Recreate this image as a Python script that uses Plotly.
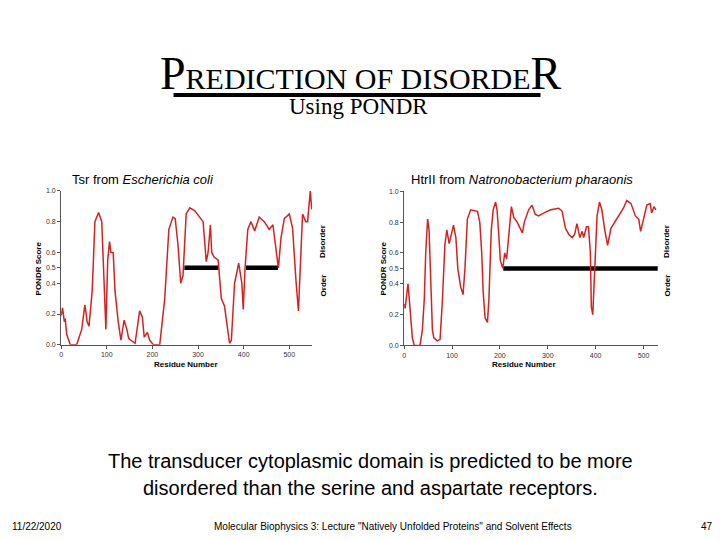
import plotly.graph_objects as go

# Tsr from Escherichia coli
tsr_res = [0, 3, 7, 9, 12, 20, 34, 41, 45, 52, 57, 61, 68, 74, 82, 89, 95, 98, 102, 106, 109, 114,
           118, 125, 131, 138, 144, 148, 162, 172, 178, 182, 189, 194, 202, 216, 227, 236, 245, 250,
           256, 262, 267, 274, 282, 293, 311, 318, 322, 327, 330, 335, 344, 351, 358, 364, 369, 373,
           380, 389, 396, 399, 403, 409, 416, 424, 434, 445, 456, 464, 471, 476, 482, 489, 500, 507,
           515, 520, 529, 536, 540, 546, 549]
tsr_score = [0.19, 0.24, 0.15, 0.17, 0.07, 0.0, 0.0, 0.07, 0.1, 0.26, 0.15, 0.12, 0.35, 0.8, 0.86,
             0.8, 0.3, 0.1, 0.55, 0.67, 0.6, 0.6, 0.35, 0.15, 0.03, 0.16, 0.1, 0.04, 0.01, 0.22, 0.18,
             0.05, 0.08, 0.03, 0.0, 0.0, 0.3, 0.75, 0.83, 0.82, 0.65, 0.4, 0.45, 0.85, 0.89, 0.87, 0.8,
             0.54, 0.6, 0.78, 0.6, 0.57, 0.55, 0.3, 0.25, 0.1, 0.01, 0.03, 0.4, 0.53, 0.4, 0.23, 0.5,
             0.75, 0.8, 0.74, 0.83, 0.8, 0.75, 0.78, 0.6, 0.5, 0.7, 0.82, 0.85, 0.76, 0.4, 0.22, 0.85,
             0.8, 0.8, 1.0, 0.88]
tsr_bars = [(270, 345), (405, 475)]

# HtrII from Natronobacterium pharaonis
htr_res = [0, 2, 6, 8, 12, 17, 21, 33, 38, 42, 45, 49, 52, 56, 59, 62, 69, 75, 80, 85, 89, 94, 97,
           103, 108, 112, 118, 123, 127, 132, 139, 153, 158, 162, 165, 169, 174, 177, 182, 186, 191,
           194, 198, 201, 206, 210, 214, 219, 224, 229, 236, 247, 251, 260, 267, 274, 281, 292, 306,
           323, 330, 337, 344, 351, 356, 361, 367, 372, 375, 381, 385, 389, 391, 394, 398, 403, 408,
           413, 419, 425, 432, 444, 458, 465, 474, 483, 490, 494, 501, 507, 514, 517, 522, 526]
htr_score = [0.27, 0.24, 0.35, 0.4, 0.25, 0.05, 0.0, 0.0, 0.1, 0.3, 0.6, 0.82, 0.75, 0.4, 0.1, 0.05,
             0.03, 0.04, 0.3, 0.65, 0.75, 0.66, 0.7, 0.78, 0.7, 0.5, 0.38, 0.33, 0.5, 0.82, 0.88, 0.87,
             0.8, 0.6, 0.35, 0.18, 0.15, 0.3, 0.75, 0.88, 0.93, 0.88, 0.7, 0.55, 0.5, 0.6, 0.56, 0.75,
             0.9, 0.83, 0.8, 0.73, 0.8, 0.88, 0.91, 0.85, 0.84, 0.86, 0.88, 0.89, 0.87, 0.76, 0.72,
             0.7, 0.72, 0.79, 0.7, 0.74, 0.7, 0.77, 0.77, 0.6, 0.25, 0.2, 0.5, 0.84, 0.93, 0.88, 0.75,
             0.65, 0.76, 0.82, 0.89, 0.94, 0.92, 0.84, 0.82, 0.74, 0.84, 0.91, 0.92, 0.86, 0.9, 0.88]
htr_bars = [(207, 530)]

y_ticks = [0.0, 0.2, 0.4, 0.5, 0.6, 0.8, 1.0]

# page has an 8px body margin, so draw on a 704x524 canvas and shift by 8px
W, H, OFF = 704, 524, 8
def px(x):
    return (x - OFF) / W
def py(y):
    return 1 - (y - OFF) / H

fig = go.Figure()
red = "#d42222"

for bars, xa, ya in [(tsr_bars, "x", "y"), (htr_bars, "x2", "y2")]:
    for a, b in bars:
        fig.add_trace(go.Scatter(x=[a, b], y=[0.5, 0.5], mode="lines", xaxis=xa, yaxis=ya,
                                 line=dict(color="black", width=4.5), showlegend=False))
fig.add_trace(go.Scatter(x=tsr_res, y=tsr_score, mode="lines", line=dict(color=red, width=1.5),
                         showlegend=False))
fig.add_trace(go.Scatter(x=htr_res, y=htr_score, mode="lines", xaxis="x2", yaxis="y2",
                         line=dict(color=red, width=1.5), showlegend=False))

tick_font = dict(family="Arial", size=7, color="#333")
ax_common = dict(showgrid=False, zeroline=False, showline=True, linecolor="#555", linewidth=1,
                 ticks="outside", ticklen=3, tickcolor="#555", tickfont=tick_font)
y_common = dict(ax_common, range=[0, 1.0], tickvals=y_ticks, tickformat=".1f")
fig.update_layout(
    width=W, height=H, margin=dict(l=0, r=0, t=0, b=0),
    paper_bgcolor="white", plot_bgcolor="white",
    xaxis=dict(ax_common, domain=[px(59.3), px(311)], range=[0, 550], tickvals=[0, 100, 200, 300, 400, 500], anchor="y"),
    yaxis=dict(y_common, domain=[py(345.3), py(189.3)], anchor="x"),
    xaxis2=dict(ax_common, domain=[px(403.3), px(657.7)], range=[0, 530], tickvals=[0, 100, 200, 300, 400, 500], anchor="y2"),
    yaxis2=dict(y_common, domain=[py(346), py(189.7)], anchor="x2"),
)

ann = []
def text(x, y, s, size, family="Arial", xanchor="center", angle=0, color="black"):
    ann.append(dict(x=px(x), y=py(y), xref="paper", yref="paper", text=s, showarrow=False,
                    xanchor=xanchor, yanchor="middle", textangle=angle,
                    font=dict(family=family, size=size, color=color)))

text(360, 70, "<span style='font-size:46px'>P</span>REDICTION OF DISORDE<span style='font-size:46px'>R</span>",
     30, family="Liberation Serif")
text(357, 104, "Using PONDR", 23, family="Liberation Serif")

text(68, 178, "Tsr from <i>Escherichia coli</i>", 13, xanchor="left")
text(408, 178, "HtrII from <i>Natronobacterium pharaonis</i>", 13, xanchor="left")
for cx in (185, 523):
    text(cx, 365, "<b>Residue Number</b>", 8)
for lx, dx in ((37, 322), (383, 667)):
    text(lx, 268, "<b>PONDR Score</b>", 8, angle=-90)
    text(dx, 241, "<b>Disorder</b>", 8, angle=-90)
    text(dx, 285, "<b>Order</b>", 8, angle=-90)

text(370, 463, "The transducer cytoplasmic domain is predicted to be more", 20)
text(370, 490, "disordered than the serine and aspartate receptors.", 20)
text(8, 529, "11/22/2020", 10, xanchor="left")
text(392, 529, "Molecular Biophysics 3: Lecture \"Natively Unfolded Proteins\" and Solvent Effects", 10)
text(707, 529, "47", 10)
fig.update_layout(annotations=ann)

fig.add_shape(type="line", xref="paper", yref="paper", x0=px(172), x1=px(540),
              y0=py(92), y1=py(92), line=dict(color="black", width=4))

fig.write_html("out.html")
